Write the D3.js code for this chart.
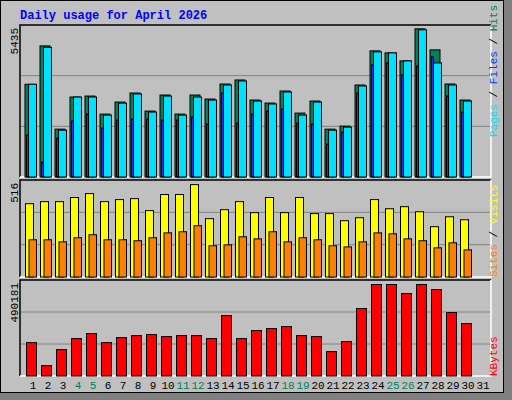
<!DOCTYPE html><html><head><meta charset="utf-8"><script src="https://cdn.jsdelivr.net/npm/d3@7"></script>
<style>body{margin:0;background:#fff}text{font-family:"Liberation Mono","DejaVu Sans Mono",monospace}</style></head><body><svg id="c" width="512" height="400"></svg><script>
const days=d3.range(1,32);
const weekend=[4,5,11,12,18,19,25,26];
const hits=[3326,4704,1717,2869,2904,2257,2689,3013,2365,2941,2257,2941,2797,3337,3481,2761,2653,3085,2293,2725,1717,1825,3301,4525,4453,4165,5316,4561,3337,2761];
const files=[3326,4650,1680,2869,2870,2220,2650,2980,2330,2905,2220,2870,2760,3300,3445,2725,2620,3050,2220,2690,1680,1790,3265,4490,4453,4165,5280,4092,3300,2725];
const pages=[1500,530,1393,2005,2257,1753,2041,2077,2077,2041,2041,2149,1897,3013,1933,2257,2365,2437,1933,1897,1177,1609,3013,4020,4092,3661,3985,4309,2904,2329];
const visits=[392,403,403,425,446,403,414,419,355,441,441,494,312,360,403,344,425,344,425,339,339,301,317,414,365,376,349,269,322,306];
const sites=[199,199,188,210,226,199,199,194,210,236,242,274,167,172,215,204,242,188,210,199,167,161,188,236,231,204,194,156,183,145];
const kbytes=[171390,53131,135399,191958,217664,171390,197099,207382,212524,202240,207382,207382,191958,310216,191958,233090,243373,253656,207382,202240,125115,176532,346210,469610,469610,423333,469610,443901,325641,269082];
const maxHits=5435,maxVisits=516,maxK=490181;
const svg=d3.select("#c");
svg.append("rect").attr("x",0).attr("y",0).attr("width",512).attr("height",400).attr("fill","#808080");
svg.append("rect").attr("x",0.5).attr("y",0.5).attr("width",503).attr("height",392).attr("fill","#C0C0C0").attr("stroke","#000");
svg.append("text").attr("x",20).attr("y",19).attr("fill","#0000FF").attr("font-weight","bold").attr("font-size",12).text("Daily usage for April 2026");
const x=d3.scaleLinear().domain([1,2]).range([25,40]);
const panels=[{y0:25,y1:177},{y0:180,y1:277},{y0:280,y1:376}];
panels.forEach(p=>{
 svg.append("rect").attr("x",20).attr("y",p.y0).attr("width",471).attr("height",p.y1-p.y0).attr("fill","#C0C0C0");
 svg.append("path").attr("d",`M20,${p.y1}V${p.y0}H491`).attr("stroke","#000").attr("fill","none").attr("stroke-width",1.5);
 svg.append("path").attr("d",`M491,${p.y0}V${p.y1}H20`).attr("stroke","#fff").attr("fill","none").attr("stroke-width",1.5);
 const h=p.y1-p.y0;
 [1/3,2/3].forEach(f=>svg.append("line").attr("x1",21).attr("x2",490).attr("y1",p.y1-h*f).attr("y2",p.y1-h*f).attr("stroke","#808080"));
});
function bars(data,max,p,off,w,color){
 const y=d3.scaleLinear().domain([0,max]).range([p.y1,p.y0+0.5]);
 svg.append("g").selectAll("rect").data(data).join("rect")
  .attr("x",(d,i)=>x(i+1)+off).attr("width",w).attr("y",d=>y(d)).attr("height",d=>p.y1-y(d))
  .attr("fill",color).attr("stroke","#000").attr("stroke-width",1);
}
bars(hits,maxHits,panels[0],0,10,"#00805C");
bars(files,maxHits,panels[0],3.5,8,"#00E0FF");
bars(pages,maxHits,panels[0],1.5,2,"#0040FF");
bars(visits,maxVisits,panels[1],0.5,8,"#FFFF00");
bars(sites,maxVisits,panels[1],4,7.5,"#FF8000");
bars(kbytes,maxK,panels[2],1.5,10,"#FF0000");
svg.append("g").selectAll("text").data(days).join("text")
 .attr("x",d=>x(d)+8).attr("y",393-4).attr("text-anchor","middle").attr("font-size",11)
 .attr("fill",d=>weekend.includes(d)?"#00805C":"#000").text(d=>d);
function ylab(t,yTop){svg.append("text").attr("transform",`translate(18,${yTop}) rotate(-90)`).attr("text-anchor","end").attr("font-size",11).text(t);}
ylab("5435",28);ylab("516",183);ylab("490181",283);
function rlab(parts,yBottom){
 const t=svg.append("text").attr("transform",`translate(497,${yBottom}) rotate(-90)`).attr("font-size",11);
 parts.forEach(([s,c])=>t.append("tspan").attr("fill",c).text(s));
}
rlab([["Pages","#00E0FF"],[" / ","#000"],["Files","#0040FF"],[" / ","#000"],["Hits","#00805C"]],137);
rlab([["Sites","#FF8000"],[" / ","#000"],["Visits","#FFFF00"]],277);
rlab([["KBytes","#FF0000"]],376);
</script></body></html>
